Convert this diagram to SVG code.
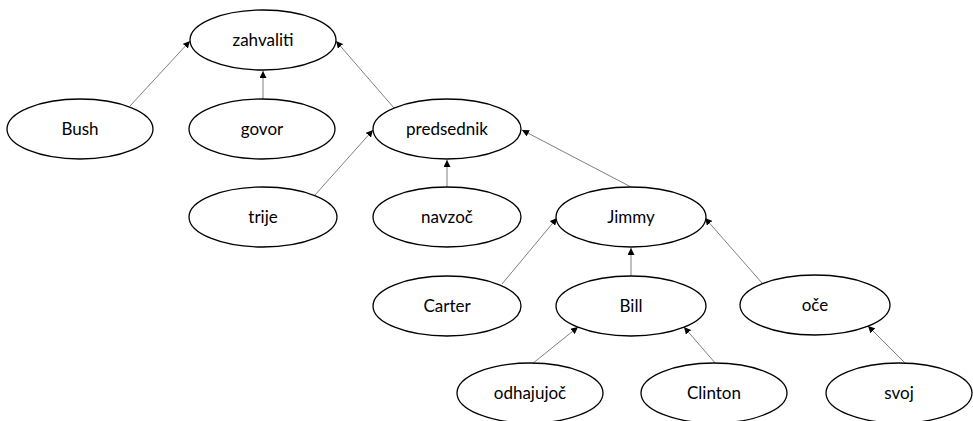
<svg xmlns="http://www.w3.org/2000/svg" width="973" height="421" viewBox="0 0 973 421">
  <style>
    .node ellipse { fill: #ffffff; stroke: #000000; stroke-width: 1.3; }
    .node text { font-family: "Lato", "Open Sans", sans-serif; font-size: 17px; fill: #000000; text-anchor: middle; }
    .edge { stroke: #7f7f7f; stroke-width: 1; fill: none; marker-end: url(#arrow); }
  </style>
  <defs>
    <marker id="arrow" viewBox="0 0 10 10" refX="10" refY="5" markerWidth="7" markerHeight="7" markerUnits="userSpaceOnUse" orient="auto">
      <path d="M0,0 L10,5 L0,10 Z" fill="#000000"/>
    </marker>
  </defs>
  <rect width="973" height="421" fill="#ffffff"/>

  <!-- dependency edges: child -> head -->
  <g id="connectors">
    <line class="edge" x1="130" y1="106" x2="190" y2="41"/>
    <line class="edge" x1="263" y1="99" x2="263" y2="71"/>
    <line class="edge" x1="394" y1="108" x2="336" y2="41"/>
    <line class="edge" x1="315" y1="195" x2="373" y2="130"/>
    <line class="edge" x1="447" y1="187" x2="447" y2="160"/>
    <line class="edge" x1="631" y1="187" x2="522" y2="130"/>
    <line class="edge" x1="502" y1="284" x2="557" y2="218"/>
    <line class="edge" x1="631" y1="276" x2="631" y2="248"/>
    <line class="edge" x1="762" y1="283" x2="705" y2="218"/>
    <line class="edge" x1="532" y1="364" x2="578" y2="327"/>
    <line class="edge" x1="716" y1="364" x2="684" y2="327"/>
    <line class="edge" x1="905" y1="363" x2="868" y2="326"/>
  </g>

  <g id="zahvaliti" class="node"><ellipse cx="263" cy="40" rx="73" ry="30"/><text x="263" y="46">zahvaliti</text></g>
  <g id="bush" class="node"><ellipse cx="80" cy="129" rx="73" ry="30"/><text x="80" y="135">Bush</text></g>
  <g id="govor" class="node"><ellipse cx="262" cy="129" rx="73" ry="30"/><text x="262" y="135">govor</text></g>
  <g id="predsednik" class="node"><ellipse cx="447" cy="129" rx="74" ry="30"/><text x="447" y="135">predsednik</text></g>
  <g id="trije" class="node"><ellipse cx="263" cy="217" rx="74" ry="30"/><text x="263" y="223">trije</text></g>
  <g id="navzoc" class="node"><ellipse cx="447" cy="217" rx="74" ry="30"/><text x="447" y="223">navzoč</text></g>
  <g id="jimmy" class="node"><ellipse cx="631" cy="217" rx="75" ry="30"/><text x="631" y="223">Jimmy</text></g>
  <g id="carter" class="node"><ellipse cx="447" cy="306" rx="74" ry="30"/><text x="447" y="312">Carter</text></g>
  <g id="bill" class="node"><ellipse cx="631" cy="306" rx="75" ry="30"/><text x="631" y="312">Bill</text></g>
  <g id="oce" class="node"><ellipse cx="815" cy="305" rx="75" ry="30"/><text x="815" y="311">oče</text></g>
  <g id="odhajujoc" class="node"><ellipse cx="530" cy="393" rx="73" ry="30"/><text x="530" y="399">odhajujoč</text></g>
  <g id="clinton" class="node"><ellipse cx="714" cy="393" rx="73" ry="30"/><text x="714" y="399">Clinton</text></g>
  <g id="svoj" class="node"><ellipse cx="899" cy="393" rx="73" ry="30"/><text x="899" y="399">svoj</text></g>
</svg>
